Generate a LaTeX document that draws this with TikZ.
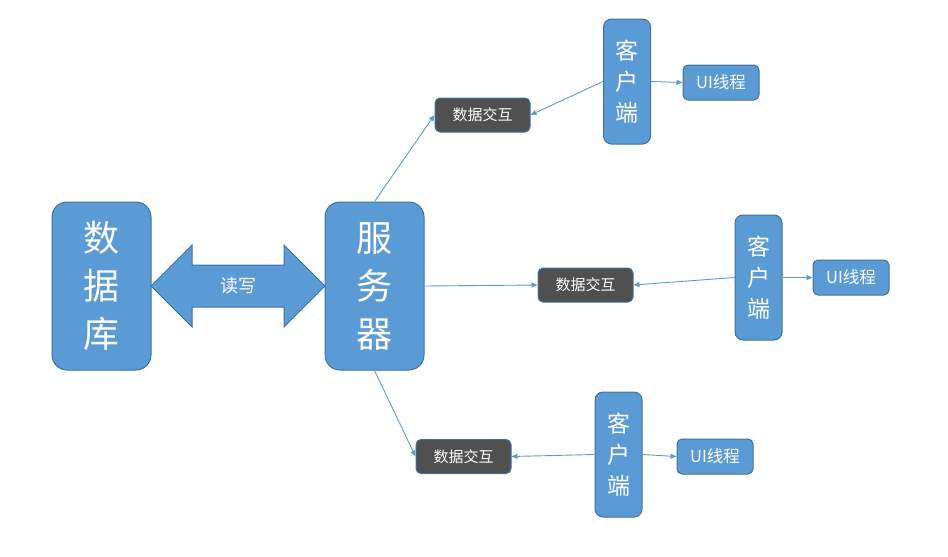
\documentclass[tikz,border=0pt]{standalone}
\usepackage{fontspec}
\setmainfont{Noto Sans CJK SC}
\usetikzlibrary{arrows.meta}
\definecolor{boxblue}{HTML}{5B9BD5}
\definecolor{boxedge}{HTML}{41719C}
\definecolor{darkbox}{HTML}{505050}
\tikzset{
  bigbox/.style={draw=boxedge, fill=boxblue, line width=1pt, rounded corners=15pt, minimum width=99pt, minimum height=168pt, inner sep=0pt, align=center, text=white, font=\fontsize{36}{48}\selectfont},
  clientbox/.style={draw=boxedge, fill=boxblue, line width=1pt, rounded corners=8pt, minimum width=47pt, minimum height=125pt, inner sep=0pt, align=center, text=white, font=\fontsize{23}{31}\selectfont},
  uibox/.style={draw=boxedge, fill=boxblue, line width=1pt, rounded corners=5pt, minimum width=76pt, minimum height=35pt, inner sep=0pt, text=white, font=\fontsize{16.5}{18}\selectfont},
  xchbox/.style={draw=boxedge, fill=darkbox, line width=1pt, rounded corners=5pt, minimum width=95pt, minimum height=34pt, inner sep=0pt, text=white, font=\fontsize{15}{17}\selectfont},
  conn/.style={draw=boxblue, line width=0.9pt, -{Triangle[length=6pt,width=5pt]}},
}
\begin{document}
\begin{tikzpicture}[x=1pt,y=-1pt]
\useasboundingbox (0,0) rectangle (948,557);
\node[bigbox] (db) at (101.5,286) {数\\据\\库};
\node[bigbox] (srv) at (374.5,286) {服\\务\\器};
\path[draw=boxedge, fill=boxblue, line width=1pt]
  (151,286) -- (192,245) -- (192,265) -- (284,265) -- (284,245) -- (325,286)
  -- (284,327) -- (284,307) -- (192,307) -- (192,327) -- cycle;
\node[text=white, font=\fontsize{18}{20}\selectfont] (rw) at (238,286) {读写};

\node[xchbox] (x1) at (482.5,115) {数据交互};
\node[clientbox] (c1) at (627,81.5) {客\\户\\端};
\node[uibox] (u1) at (721,82.5) {UI线程};

\node[xchbox] (x2) at (585.5,285) {数据交互};
\node[clientbox] (c2) at (758.5,277.5) {客\\户\\端};
\node[uibox] (u2) at (851,277.5) {UI线程};

\node[xchbox] (x3) at (463.5,456.5) {数据交互};
\node[clientbox] (c3) at (618.5,454.5) {客\\户\\端};
\node[uibox] (u3) at (715,456.5) {UI线程};

\draw[conn] (srv.north) -- (x1.west);
\draw[conn] (srv.east) -- (x2.west);
\draw[conn] (srv.south) -- (x3.west);
\draw[conn] (c1.west) -- (x1.east);
\draw[conn] (c1.east) -- (u1.west);
\draw[conn] (c2.west) -- (x2.east);
\draw[conn] (c2.east) -- (u2.west);
\draw[conn] (c3.west) -- (x3.east);
\draw[conn] (c3.east) -- (u3.west);
\end{tikzpicture}
\end{document}
